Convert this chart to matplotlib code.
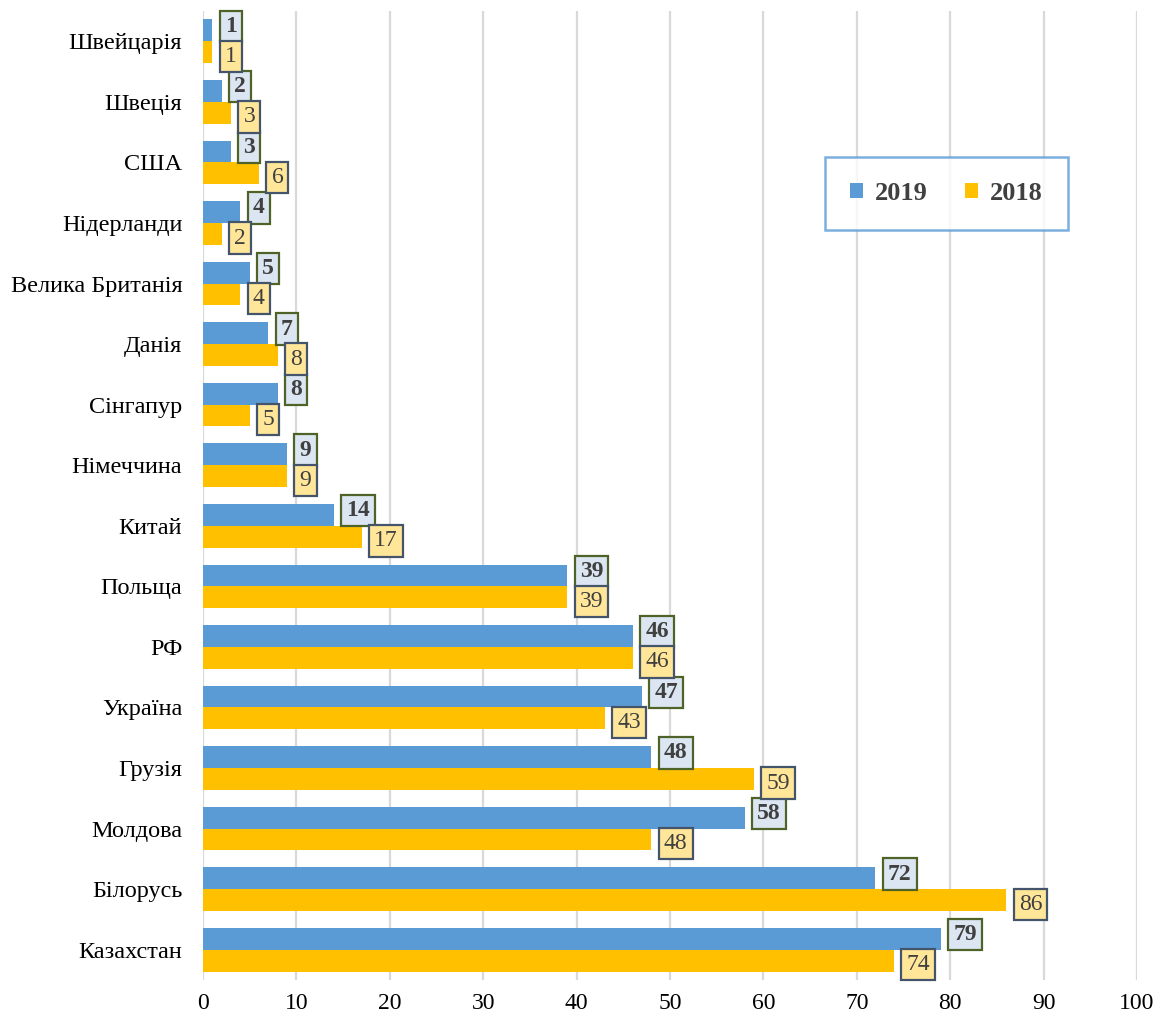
import matplotlib.pyplot as plt
import numpy as np

plt.rcParams['font.family'] = ['Liberation Serif', 'DejaVu Serif']

countries = ['Швейцарія', 'Швеція', 'США', 'Нідерланди', 'Велика Британія',
             'Данія', 'Сінгапур', 'Німеччина', 'Китай', 'Польща', 'РФ',
             'Україна', 'Грузія', 'Молдова', 'Білорусь', 'Казахстан']
vals_2019 = [1, 2, 3, 4, 5, 7, 8, 9, 14, 39, 46, 47, 48, 58, 72, 79]
vals_2018 = [1, 3, 6, 2, 4, 8, 5, 9, 17, 39, 46, 43, 59, 48, 86, 74]

blue = '#5b9bd5'
yellow = '#ffc000'
txt = '#404040'

fig = plt.figure(figsize=(11.61, 10.21), dpi=100)
ax = fig.add_axes([203 / 1161, 1 - 980 / 1021, (1137 - 203) / 1161, (980 - 11) / 1021])

y = np.arange(len(countries))
h = 0.36
ax.barh(y - h / 2, vals_2019, height=h, color=blue, label='2019', zorder=3)
ax.barh(y + h / 2, vals_2018, height=h, color=yellow, label='2018', zorder=3)

# data labels in boxes, to the right of each bar
# (2019 nudged up, 2018 nudged down so the boxes don't cover each other)
for yi, v in zip(y - h / 2, vals_2019):
    ax.annotate(str(v), (v, yi), xytext=(9, 3), textcoords='offset points',
                ha='left', va='center', fontsize=17, fontweight='bold', color=txt,
                bbox=dict(boxstyle='square,pad=0.22', fc='#dce6f2', ec='#4f6228', lw=1.6),
                annotation_clip=False, zorder=5)
for yi, v in zip(y + h / 2, vals_2018):
    ax.annotate(str(v), (v, yi), xytext=(9, -3), textcoords='offset points',
                ha='left', va='center', fontsize=17, color=txt,
                bbox=dict(boxstyle='square,pad=0.22', fc='#ffe699', ec='#44546a', lw=1.6),
                annotation_clip=False, zorder=6)

ax.set_xlim(0, 100)
ax.set_ylim(len(countries) - 0.5, -0.5)
ax.set_xticks(np.arange(0, 101, 10))
ax.set_yticks(y)
ax.set_yticklabels(countries)
ax.tick_params(axis='y', length=0, labelsize=17.5, pad=15, labelcolor='black')
ax.tick_params(axis='x', length=0, labelsize=17, pad=9, labelcolor='black')
ax.grid(axis='x', color='#d9d9d9', lw=1.6, zorder=0)
for s in ax.spines.values():
    s.set_visible(False)

leg = ax.legend(loc='upper left', bbox_to_anchor=((825 - 203) / 934, 1 - (157 - 11) / 969),
                ncol=2, frameon=True, fancybox=False, handlelength=0.5, handleheight=0.5,
                columnspacing=1.4, borderpad=0.95, handletextpad=0.45,
                borderaxespad=0, prop={'size': 19, 'weight': 'bold'})
leg.get_frame().set_edgecolor(blue)
leg.get_frame().set_linewidth(1.8)
for t in leg.get_texts():
    t.set_color(txt)

fig.savefig('out.png', dpi=100)
